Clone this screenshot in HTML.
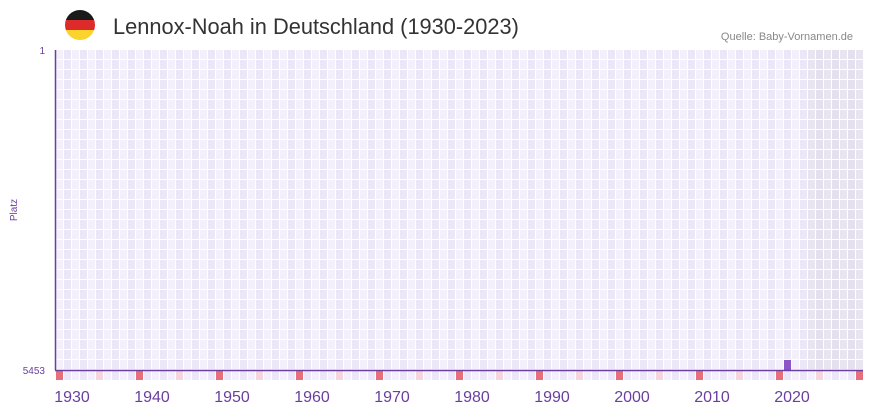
<!DOCTYPE html>
<html><head><meta charset="utf-8"><style>
body{margin:0;background:#fff;width:873px;height:412px;overflow:hidden;font-family:"Liberation Sans",sans-serif}
</style></head><body>
<svg id="s" width="873" height="412" xmlns="http://www.w3.org/2000/svg">
<defs><clipPath id="c"><circle cx="80" cy="25" r="15"/></clipPath></defs>
<g clip-path="url(#c)">
<rect x="65" y="10" width="30" height="10" fill="#1a1a1a"/>
<rect x="65" y="20" width="30" height="10" fill="#dd2a2a"/>
<rect x="65" y="30" width="30" height="10" fill="#fcd22c"/>
</g>
<text x="113" y="34" font-size="21.8" fill="#333">Lennox-Noah in Deutschland (1930-2023)</text>
<text x="853" y="40" font-size="11" fill="#888" text-anchor="end">Quelle: Baby-Vornamen.de</text>
<text x="45" y="54" font-size="10" fill="#6a3fa0" text-anchor="end">1</text>
<text x="45" y="374" font-size="10" fill="#6a3fa0" text-anchor="end">5453</text>
<text x="17" y="210" font-size="10" fill="#6a3fa0" text-anchor="middle" transform="rotate(-90 17 210)">Platz</text>
<g id="g"></g>
<line x1="55.5" y1="50" x2="55.5" y2="370" stroke="#6a3fa0" stroke-width="1.5"/>
<line x1="55" y1="370.5" x2="863" y2="370.5" stroke="#6a3fa0" stroke-width="1.5"/>
</svg>
<script>
var g=document.getElementById('g'),h='';
for(var i=0;i<101;i++){var x=56+i*8,y=1930+i;
var gray=y>=2024;
var c=gray?(i%2?'#e4e0ee':'#e8e4f0'):(i%2?'#ece7f8':'#f3f0fc');
for(var r=0;r<32;r++){h+='<rect x="'+x+'" y="'+(50+r*10)+'" width="7" height="9" fill="'+c+'"/>';}
var bc=(y%10==0)?'#e5707a':(y%5==0?'#f5d5de':(i%2?'#ece7f8':'#f3f0fc'));
h+='<rect x="'+x+'" y="371" width="7" height="9" fill="'+bc+'"/>';
if(y%10==0&&y<=2020)h+='<text x="'+(x+16)+'" y="402" font-size="16" fill="#6a3fa0" text-anchor="middle">'+y+'</text>';
}
h+='<rect x="784" y="360" width="7" height="10" fill="#8a55c7"/>';
g.innerHTML=h;
</script>
</body></html>
